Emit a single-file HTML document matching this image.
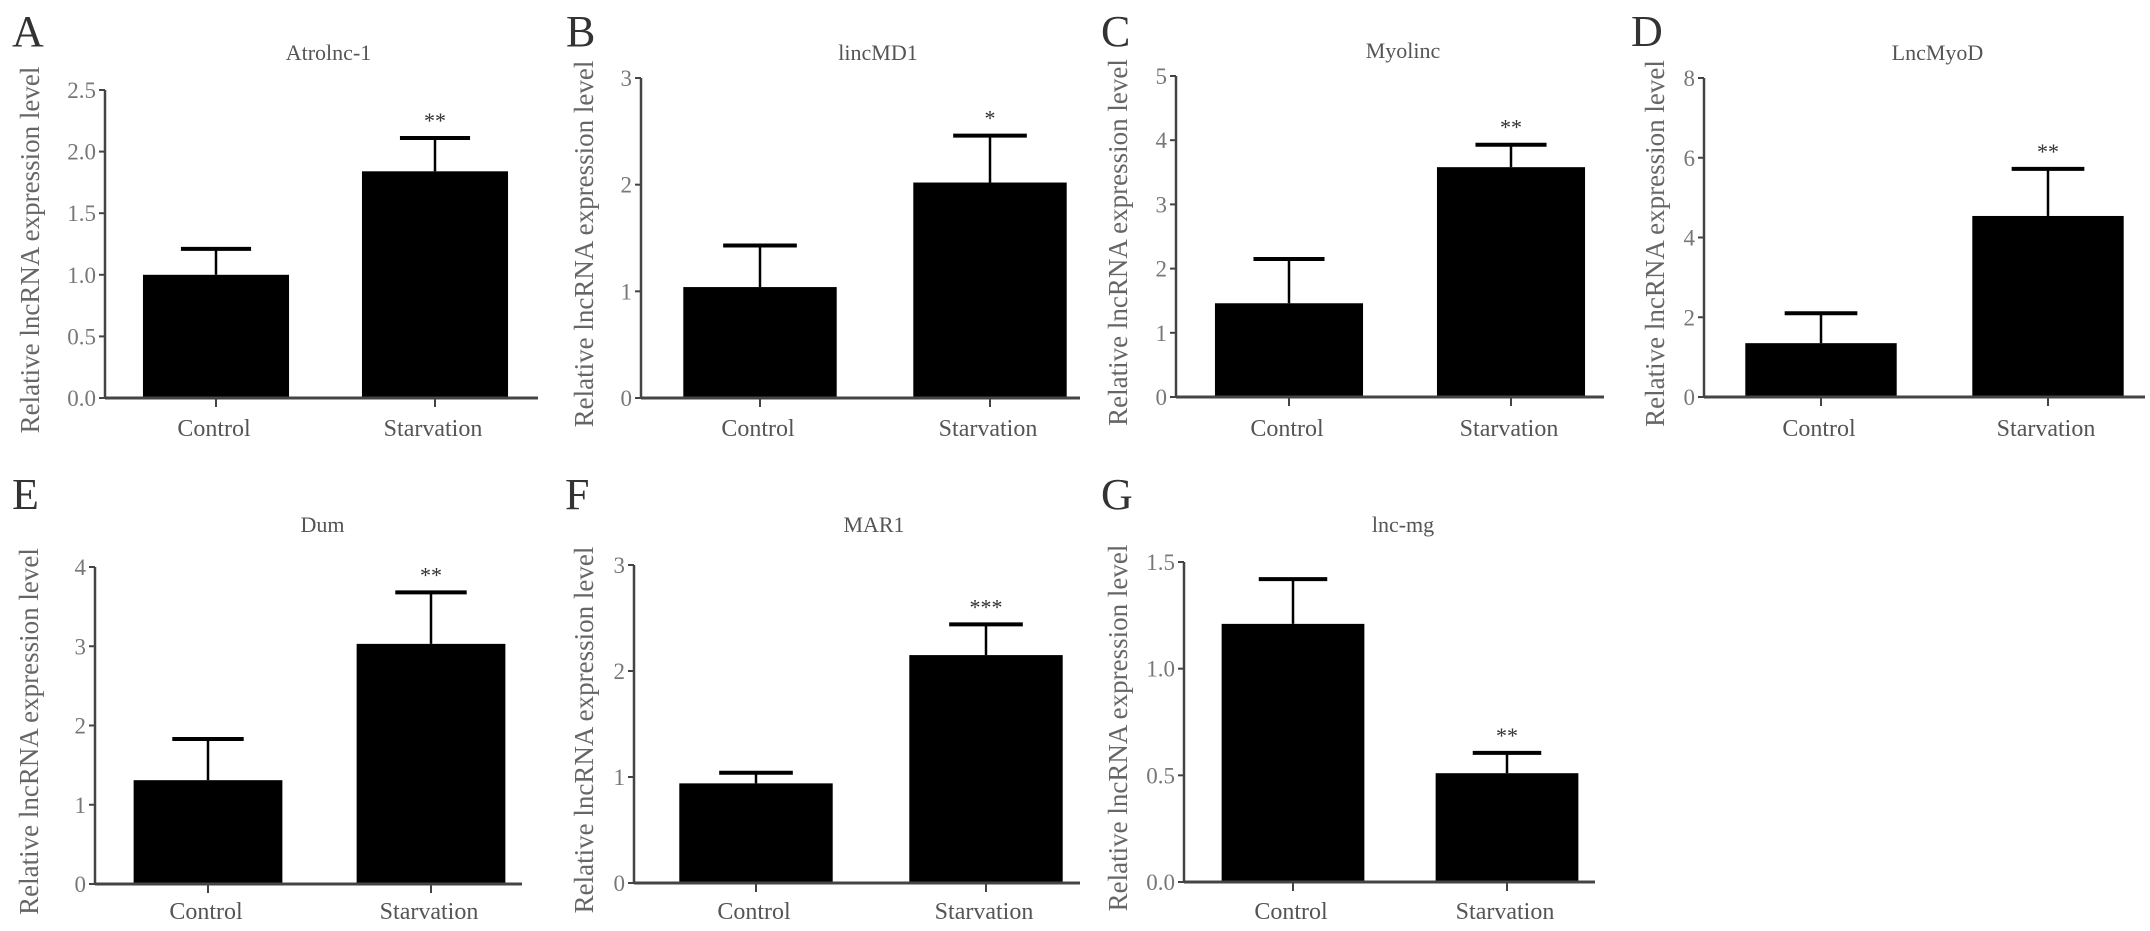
<!DOCTYPE html>
<html><head><meta charset="utf-8"><title>lncRNA expression</title>
<style>
html,body{margin:0;padding:0;background:#fff;}
svg{display:block;font-family:"Liberation Serif","DejaVu Serif",serif;}
</style></head>
<body>
<svg id="fig" width="2150" height="931" viewBox="0 0 2150 931" xmlns="http://www.w3.org/2000/svg"></svg>
<script>
// ---- data ----
const panelLetters = ["A","B","C","D","E","F","G"];
const panelTitles = ["Atrolnc-1","lincMD1","Myolinc","LncMyoD","Dum","MAR1","lnc-mg"];
const categories = ["Control","Starvation"];
const controlValues = [1.0, 1.04, 1.46, 1.35, 1.31, 0.94, 1.21];
const starvationValues = [1.84, 2.02, 3.58, 4.54, 3.03, 2.15, 0.51];
const controlErrTop = [1.21, 1.43, 2.15, 2.1, 1.83, 1.04, 1.42];
const starvationErrTop = [2.11, 2.46, 3.93, 5.72, 3.68, 2.44, 0.605];
const significance = ["**","*","**","**","**","***","**"];
const yMaxValues = [2.5, 3, 5, 8, 4, 3, 1.5];
const tickLabelsA = ["0.0","0.5","1.0","1.5","2.0","2.5"];
const tickLabelsB = ["0","1","2","3"];
const tickLabelsC = ["0","1","2","3","4","5"];
const tickLabelsD = ["0","2","4","6","8"];
const tickLabelsE = ["0","1","2","3","4"];
const tickLabelsF = ["0","1","2","3"];
const tickLabelsG = ["0.0","0.5","1.0","1.5"];
const tickLabelSets = [tickLabelsA,tickLabelsB,tickLabelsC,tickLabelsD,tickLabelsE,tickLabelsF,tickLabelsG];

// ---- layout (pixels) ----
const L = [
 {ax:105, top:90, zero:398, b0:106.5, b1:544.5, axEnd:538, letterX:12, letterY:46, titleY:60, ytX:30, labY:436},
 {ax:641, top:78, zero:398, b0:645, b1:1105, axEnd:1080, letterX:566, letterY:46, titleY:60, ytX:584, labY:436},
 {ax:1176, top:76, zero:397, b0:1178, b1:1622, axEnd:1604, letterX:1101, letterY:46, titleY:58, ytX:1118, labY:436},
 {ax:1704, top:78, zero:397, b0:1707.5, b1:2161.5, axEnd:2145, letterX:1631, letterY:46, titleY:60, ytX:1655, labY:436},
 {ax:95, top:567, zero:884, b0:96.5, b1:542.5, axEnd:522, letterX:12, letterY:509, titleY:532, ytX:29, labY:919},
 {ax:634, top:565, zero:883, b0:641, b1:1101, axEnd:1080, letterX:565, letterY:509, titleY:532, ytX:584, labY:919},
 {ax:1184, top:562, zero:882, b0:1186, b1:1614, axEnd:1595, letterX:1101, letterY:509, titleY:532, ytX:1118, labY:919}
];

const NS = "http://www.w3.org/2000/svg";
const svg = document.getElementById("fig");
function mk(tag, attrs, parent, text){
  const e = document.createElementNS(NS, tag);
  for (const k in attrs) e.setAttribute(k, attrs[k]);
  if (text !== undefined) e.textContent = text;
  (parent||svg).appendChild(e);
  return e;
}

for (let p = 0; p < 7; p++) {
  const l = L[p];
  const g = mk("g", {});
  
  
  const yMax = yMaxValues[p];
  const yScale = v => l.zero - (v / yMax) * (l.zero - l.top);
  const step = (l.b1 - l.b0) / categories.length;
  const xCenter = i => l.b0 + (i + 0.5) * step;
  const bw = step * 0.667;

  const letter = mk("text", {x:l.letterX, y:l.letterY, "font-size":44, fill:"#333"}, g, panelLetters[p]);
  
  

  const title = mk("text", {x:(l.b0 + l.b1)/2 + 3, y:l.titleY, "font-size":22, fill:"#555", "text-anchor":"middle"}, g, panelTitles[p]);
  
  

  const yc = (l.top + l.zero) / 2 + 6;
  const yt = mk("text", {x:0, y:0, "font-size":27, fill:"#666", "text-anchor":"middle", transform:"translate(" + (l.ytX + 9) + "," + yc + ") rotate(-90)"}, g, "Relative lncRNA expression level");
  
  

  const yAxis = mk("line", {x1:l.ax, y1:l.top, x2:l.ax, y2:l.zero, stroke:"#444", "stroke-width":2.5}, g);
  
  
  const labels = tickLabelSets[p];
  for (let t = 0; t < labels.length; t++) {
    const v = parseFloat(labels[t]);
    const y = yScale(v);
    const tk = mk("line", {x1:l.ax - 6, y1:y, x2:l.ax, y2:y, stroke:"#444", "stroke-width":2}, g);
    
    
    const tl = mk("text", {x:l.ax - 9, y:y + 8, "font-size":23, fill:"#777", "text-anchor":"end"}, g, labels[t]);
    
    
  }

  const vals = [controlValues[p], starvationValues[p]];
  const errs = [controlErrTop[p], starvationErrTop[p]];
  for (let i = 0; i < categories.length; i++) {
    const cx = xCenter(i);
    const yv = yScale(vals[i]);
    const bar = mk("rect", {x:cx - bw/2, y:yv, width:bw, height:l.zero - yv, fill:"#000"}, g);
    
    
    const ye = yScale(errs[i]);
    const stem = mk("line", {x1:cx, y1:yv, x2:cx, y2:ye, stroke:"#000", "stroke-width":2.5}, g);
    
    
    const cap = mk("line", {x1:cx - bw*0.24, y1:ye, x2:cx + bw*0.24, y2:ye, stroke:"#000", "stroke-width":4}, g);
    
    
    if (i === 1) {
      const st = mk("text", {x:cx, y:ye - 10, "font-size":22, fill:"#333", "text-anchor":"middle"}, g, significance[p]);
      
      
    }
    const xt = mk("line", {x1:cx, y1:l.zero, x2:cx, y2:l.zero + 9, stroke:"#444", "stroke-width":2}, g);
    
    
    const cl = mk("text", {x:cx - 2, y:l.labY, "font-size":24, fill:"#555", "text-anchor":"middle"}, g, categories[i]);
    
    
  }
  const xAxis = mk("line", {x1:l.ax, y1:l.zero, x2:l.axEnd, y2:l.zero, stroke:"#444", "stroke-width":3}, g);
  
  
}
</script>
</body></html>
